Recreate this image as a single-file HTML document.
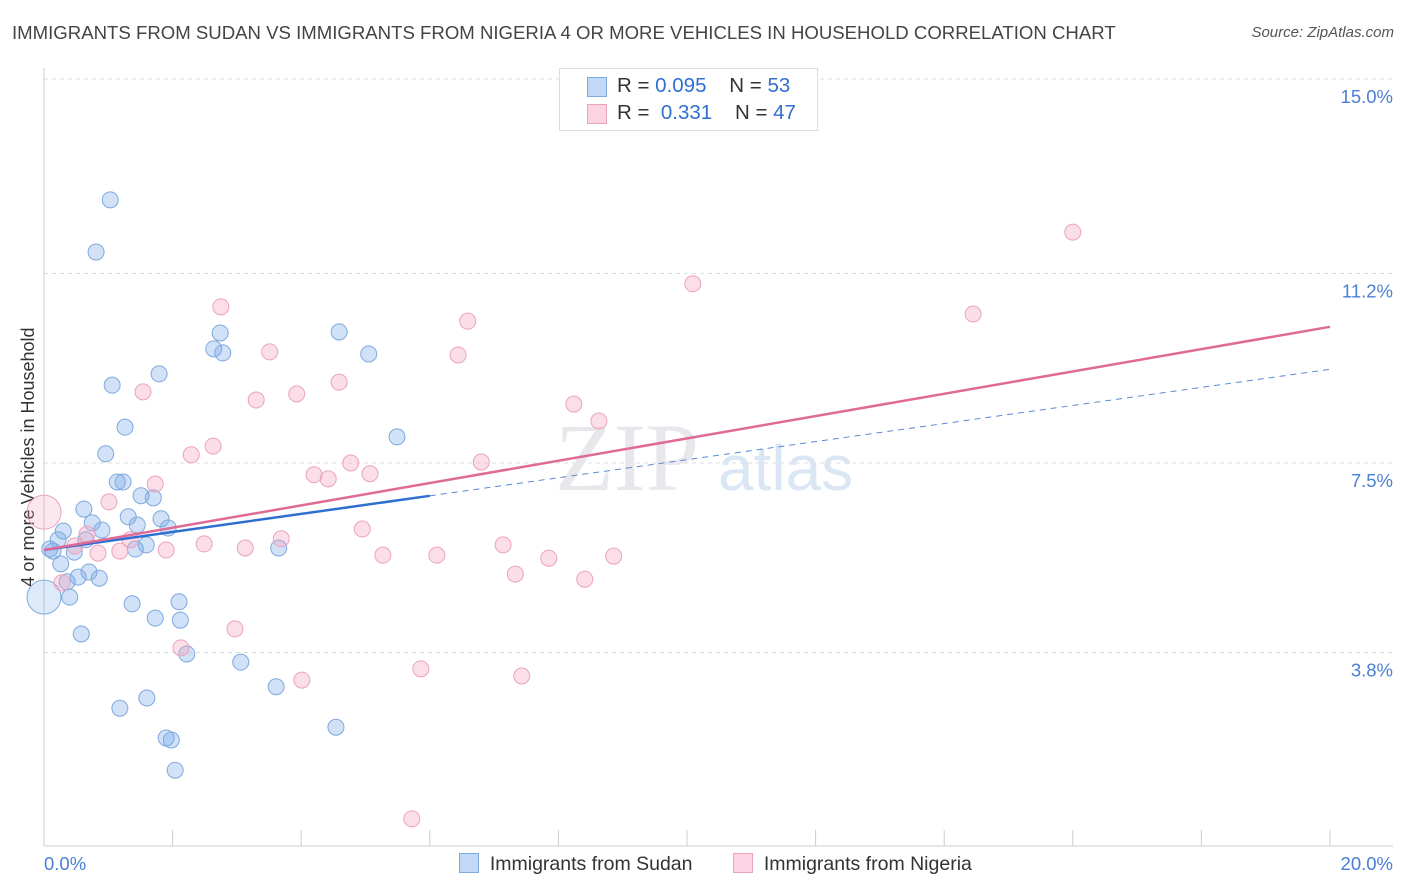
<!DOCTYPE html>
<html><head><meta charset="utf-8">
<style>
body{margin:0;background:#fff;font-family:"Liberation Sans",sans-serif;}
#wrap{position:relative;width:1406px;height:892px;overflow:hidden;}
.t{position:absolute;white-space:nowrap;}
</style></head>
<body>
<div id="wrap">
<div class="t" style="left:12px;top:22px;font-size:18.6px;color:#444;">IMMIGRANTS FROM SUDAN VS IMMIGRANTS FROM NIGERIA 4 OR MORE VEHICLES IN HOUSEHOLD CORRELATION CHART</div>
<div class="t" style="right:12px;top:24px;font-size:15px;color:#555;font-style:italic;">Source: ZipAtlas.com</div>
<svg id="svg" width="1406" height="892" style="position:absolute;left:0;top:0"></svg>
</div>
<script>
const xTicks=[0,2,4,6,8,10,12,14,16,18,20];
const yTicks=[3.8,7.5,11.2,15.0];
const yTickLabels=["3.8%","7.5%","11.2%","15.0%"];
const sudanX=[1.03,0.81,2.74,4.59,2.64,2.78,5.05,1.79,1.06,1.26,5.49,0.96,1.14,1.23,1.51,1.70,0.62,1.31,1.82,0.75,1.45,1.93,0.30,0.90,0.22,0.65,1.59,0.14,1.42,3.65,0.47,0.26,0.70,0.53,0.86,0.36,0.40,1.37,2.10,1.73,2.12,0.58,2.22,3.06,3.61,1.60,1.18,4.54,1.90,1.98,2.04,0,0.09];
const sudanY=[12.64,11.62,10.04,10.06,9.73,9.65,9.63,9.24,9.02,8.20,8.01,7.68,7.13,7.13,6.86,6.82,6.60,6.45,6.41,6.33,6.29,6.23,6.17,6.19,6.00,6.00,5.90,5.78,5.82,5.84,5.76,5.53,5.37,5.27,5.25,5.18,4.88,4.75,4.79,4.47,4.43,4.16,3.77,3.61,3.13,2.91,2.71,2.34,2.13,2.09,1.50,4.88,5.82];
const nigeriaX=[16.00,10.09,2.75,14.45,6.59,3.51,6.44,4.59,1.54,3.93,3.30,8.24,8.63,2.63,2.29,6.80,4.77,4.20,5.07,4.42,1.73,1.01,4.95,3.69,0.67,0.48,2.49,3.13,1.90,1.18,0.84,7.14,5.27,6.11,7.85,8.86,7.33,8.41,0.28,2.97,2.13,4.01,5.86,7.43,5.72,0,1.34];
const nigeriaY=[12.01,11.00,10.55,10.41,10.27,9.67,9.61,9.08,8.89,8.85,8.73,8.65,8.32,7.83,7.66,7.52,7.50,7.27,7.29,7.19,7.09,6.74,6.21,6.02,6.11,5.88,5.92,5.84,5.80,5.78,5.74,5.90,5.70,5.70,5.64,5.68,5.33,5.23,5.16,4.26,3.89,3.26,3.48,3.34,0.55,6.54,6.00];
const sudanBig=[51];const nigeriaBig=[45];
const sudanTrend=[5.80,9.33]; const sudanSolidEnd=6.0;
const nigeriaTrend=[5.80,10.16];
const X=v=>44+v*64.3, Y=v=>847-v*51.2;
const svg=document.getElementById('svg');const NS='http://www.w3.org/2000/svg';
function mk(tag,attrs,name){const e=document.createElementNS(NS,tag);for(const k in attrs)e.setAttribute(k,attrs[k]);


svg.appendChild(e);return e;}
yTicks.forEach((t,i)=>{mk('line',{x1:44,x2:1393,y1:Y(t),y2:Y(t),stroke:'#ddd','stroke-dasharray':'4,4'},'y-gridline');
const tx=mk('text',{x:1393,y:Y(t)+24,'text-anchor':'end','font-size':18.5,fill:'#4a7fd4'},'y-tick-label');tx.textContent=yTickLabels[i];});
mk('line',{x1:44,x2:44,y1:68,y2:846,stroke:'#ccc'},'y-axis-line');
mk('line',{x1:44,x2:1393,y1:846,y2:846,stroke:'#ccc'},'x-axis-line');
xTicks.forEach(t=>mk('line',{x1:X(t),x2:X(t),y1:830,y2:846,stroke:'#ccc'},'x-tick'));
let e=mk('text',{x:44,y:870,'font-size':18.5,fill:'#4a7fd4'},'x-min-label');e.textContent='0.0%';
e=mk('text',{x:1393,y:870,'text-anchor':'end','font-size':18.5,fill:'#4a7fd4'},'x-max-label');e.textContent='20.0%';
e=mk('text',{x:34,y:457,'text-anchor':'middle','font-size':18,fill:'#333',transform:'rotate(-90 34 457)'},'y-axis-title');e.textContent='4 or more Vehicles in Household';
e=mk('text',{x:555,y:490,'font-size':96,fill:'#e8e8ec','font-family':'Liberation Serif'},'watermark-zip');e.textContent='ZIP';
e=mk('text',{x:718,y:490,'font-size':64,fill:'#dbe6f5'},'watermark-atlas');e.textContent='atlas';
function dots(xs,ys,big,fill,bigfill,stroke,name){xs.forEach((x,i)=>mk('circle',{cx:X(x),cy:Y(ys[i]),r:big.includes(i)?17:8,fill:big.includes(i)?bigfill:fill,stroke:stroke,'stroke-width':1},name));}
dots(sudanX,sudanY,sudanBig,'rgba(120,170,235,0.35)','rgba(120,170,235,0.25)','#7fa9dd','sudan-point');
dots(nigeriaX,nigeriaY,nigeriaBig,'rgba(245,160,190,0.35)','rgba(245,160,190,0.25)','#eba3bc','nigeria-point');
const sAt=v=>sudanTrend[0]+(sudanTrend[1]-sudanTrend[0])*v/20;
mk('line',{x1:X(0),y1:Y(sAt(0)),x2:X(sudanSolidEnd),y2:Y(sAt(sudanSolidEnd)),stroke:'#2f6fd0','stroke-width':2.5},'sudan-trend-line');
mk('line',{x1:X(sudanSolidEnd),y1:Y(sAt(sudanSolidEnd)),x2:X(20),y2:Y(sAt(20)),stroke:'#5a8ad4','stroke-width':1,'stroke-dasharray':'6,5'},'sudan-trend-dashed');
mk('line',{x1:X(0),y1:Y(nigeriaTrend[0]),x2:X(20),y2:Y(nigeriaTrend[1]),stroke:'#e06a96','stroke-width':2.5},'nigeria-trend-line');
</script>
<div style="position:absolute;left:559px;top:68px;width:257px;height:61px;border:1px solid #ddd;background:#fff;font-size:20.5px;color:#333;">
<div style="position:absolute;left:27px;top:8px;width:18px;height:18px;background:rgba(120,170,235,0.45);border:1px solid #7fa9dd"></div>
<div class="t" style="left:57px;top:5px">R = <span style="color:#2f6fd0">0.095</span>&nbsp;&nbsp;&nbsp; N = <span style="color:#2f6fd0">53</span></div>
<div style="position:absolute;left:27px;top:35px;width:18px;height:18px;background:rgba(245,160,190,0.45);border:1px solid #eba3bc"></div>
<div class="t" style="left:57px;top:32px">R = &nbsp;<span style="color:#2f6fd0">0.331</span>&nbsp;&nbsp;&nbsp; N = <span style="color:#2f6fd0">47</span></div>
</div>
<div style="position:absolute;left:459px;top:853px;font-size:19.5px;color:#333;">
<span style="display:inline-block;width:18px;height:18px;background:rgba(120,170,235,0.45);border:1px solid #7fa9dd;vertical-align:-3px"></span>&nbsp; Immigrants from Sudan</div>
<div style="position:absolute;left:733px;top:853px;font-size:19.5px;color:#333;">
<span style="display:inline-block;width:18px;height:18px;background:rgba(245,160,190,0.45);border:1px solid #eba3bc;vertical-align:-3px"></span>&nbsp; Immigrants from Nigeria</div>
</body></html>
